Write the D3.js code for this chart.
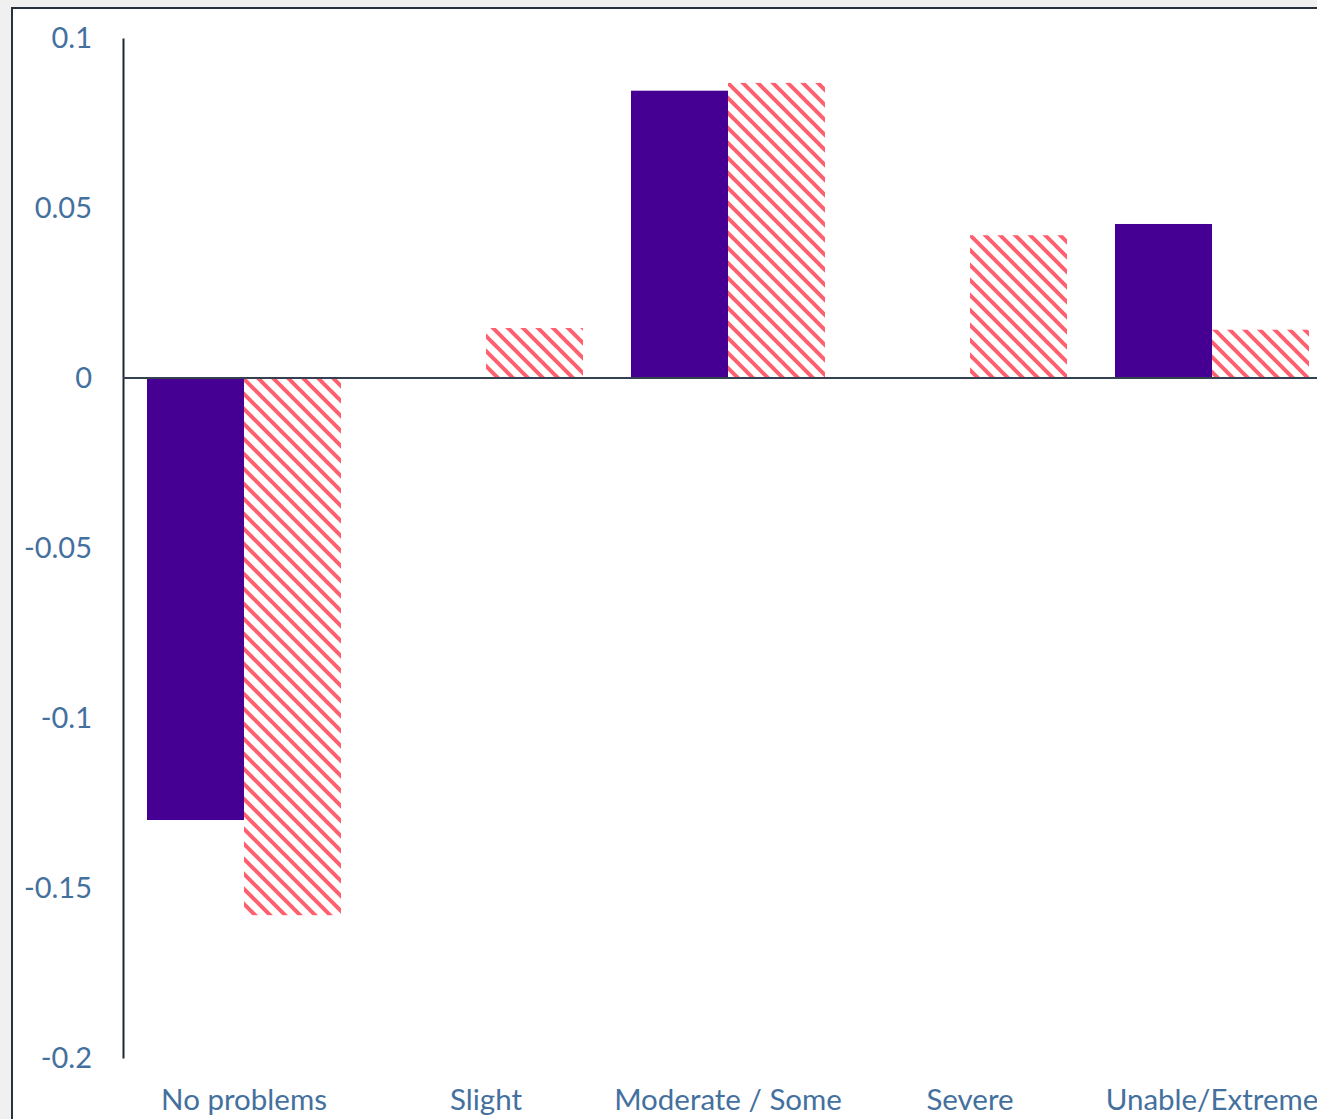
<!DOCTYPE html>
<html><head><meta charset="utf-8">
<script src="https://cdn.jsdelivr.net/npm/d3@7"></script>
<style>html,body{margin:0;padding:0;background:#f0f0f0;overflow:hidden}</style>
</head><body>
<svg id="c" width="1317" height="1119"></svg>
<script>
const categories = ["No problems","Slight","Moderate / Some","Severe","Unable/Extreme"];
const seriesA = [-0.13, 0, 0.0845, 0, 0.0453];
const seriesB = [-0.158, 0.0147, 0.0868, 0.042, 0.0142];
const tickValues = [0.1, 0.05, 0, -0.05, -0.1, -0.15, -0.2];
const tickLabels = ["0.1","0.05","0","-0.05","-0.1","-0.15","-0.2"];

const svg = d3.select("#c");
const defs = svg.append("defs");
const P = 15;
const pat = defs.append("pattern").attr("id","hatch").attr("patternUnits","userSpaceOnUse")
  .attr("width",P).attr("height",P);
pat.append("rect").attr("width",P).attr("height",P).attr("fill","#fff");
pat.append("path").attr("d",`M${-P},0 L${P},${2*P} M0,${-P} L${2*P},${P} M${-P},${-P} L${2*P},${2*P}`)
  .attr("stroke","#ff6070").attr("stroke-width",4).attr("fill","none");

svg.append("rect").attr("x",12).attr("y",8).attr("width",1400).attr("height",1200)
  .attr("fill","#fff").attr("stroke","#28313f").attr("stroke-width",2);

const y = d3.scaleLinear().domain([-0.2,0.1]).range([1058,38]);
const x = d3.scaleBand().domain(categories).range([123,1333]);
const inner = d3.scaleBand().domain(["A","B"]).range([24,x.bandwidth()-24]);

const g = svg.append("g");
categories.forEach((c,i)=>{
  const vals = [["A",seriesA[i]],["B",seriesB[i]]];
  vals.forEach(([k,v])=>{
    if (v===0) return;
    g.append("rect").attr("x",x(c)+inner(k)).attr("width",inner.bandwidth())
      .attr("y",y(Math.max(0,v))).attr("height",Math.abs(y(v)-y(0)))
      .attr("fill", k==="A" ? "#450093" : "url(#hatch)");
  });
});

const font = "Lato, 'Open Sans', sans-serif";
const yAxis = svg.append("g").attr("transform","translate(123,0)")
  .call(d3.axisLeft(y).tickValues(tickValues).tickSize(0).tickPadding(31)
    .tickFormat((d,i)=>tickLabels[i]));
yAxis.select(".domain").attr("stroke","#1e2836").attr("stroke-width",2);
yAxis.selectAll("text").attr("fill","#44709e").attr("font-size",29).attr("font-family",font);

svg.append("line").attr("x1",123).attr("x2",1317).attr("y1",y(0)).attr("y2",y(0))
  .attr("stroke","#354050").attr("stroke-width",2);

const xAxis = svg.append("g").attr("transform","translate(0,1058)")
  .call(d3.axisBottom(x).tickSize(0).tickPadding(31));
xAxis.select(".domain").remove();
xAxis.selectAll("text").attr("fill","#44709e").attr("font-size",29.5).attr("font-family",font);
</script>
</body></html>
